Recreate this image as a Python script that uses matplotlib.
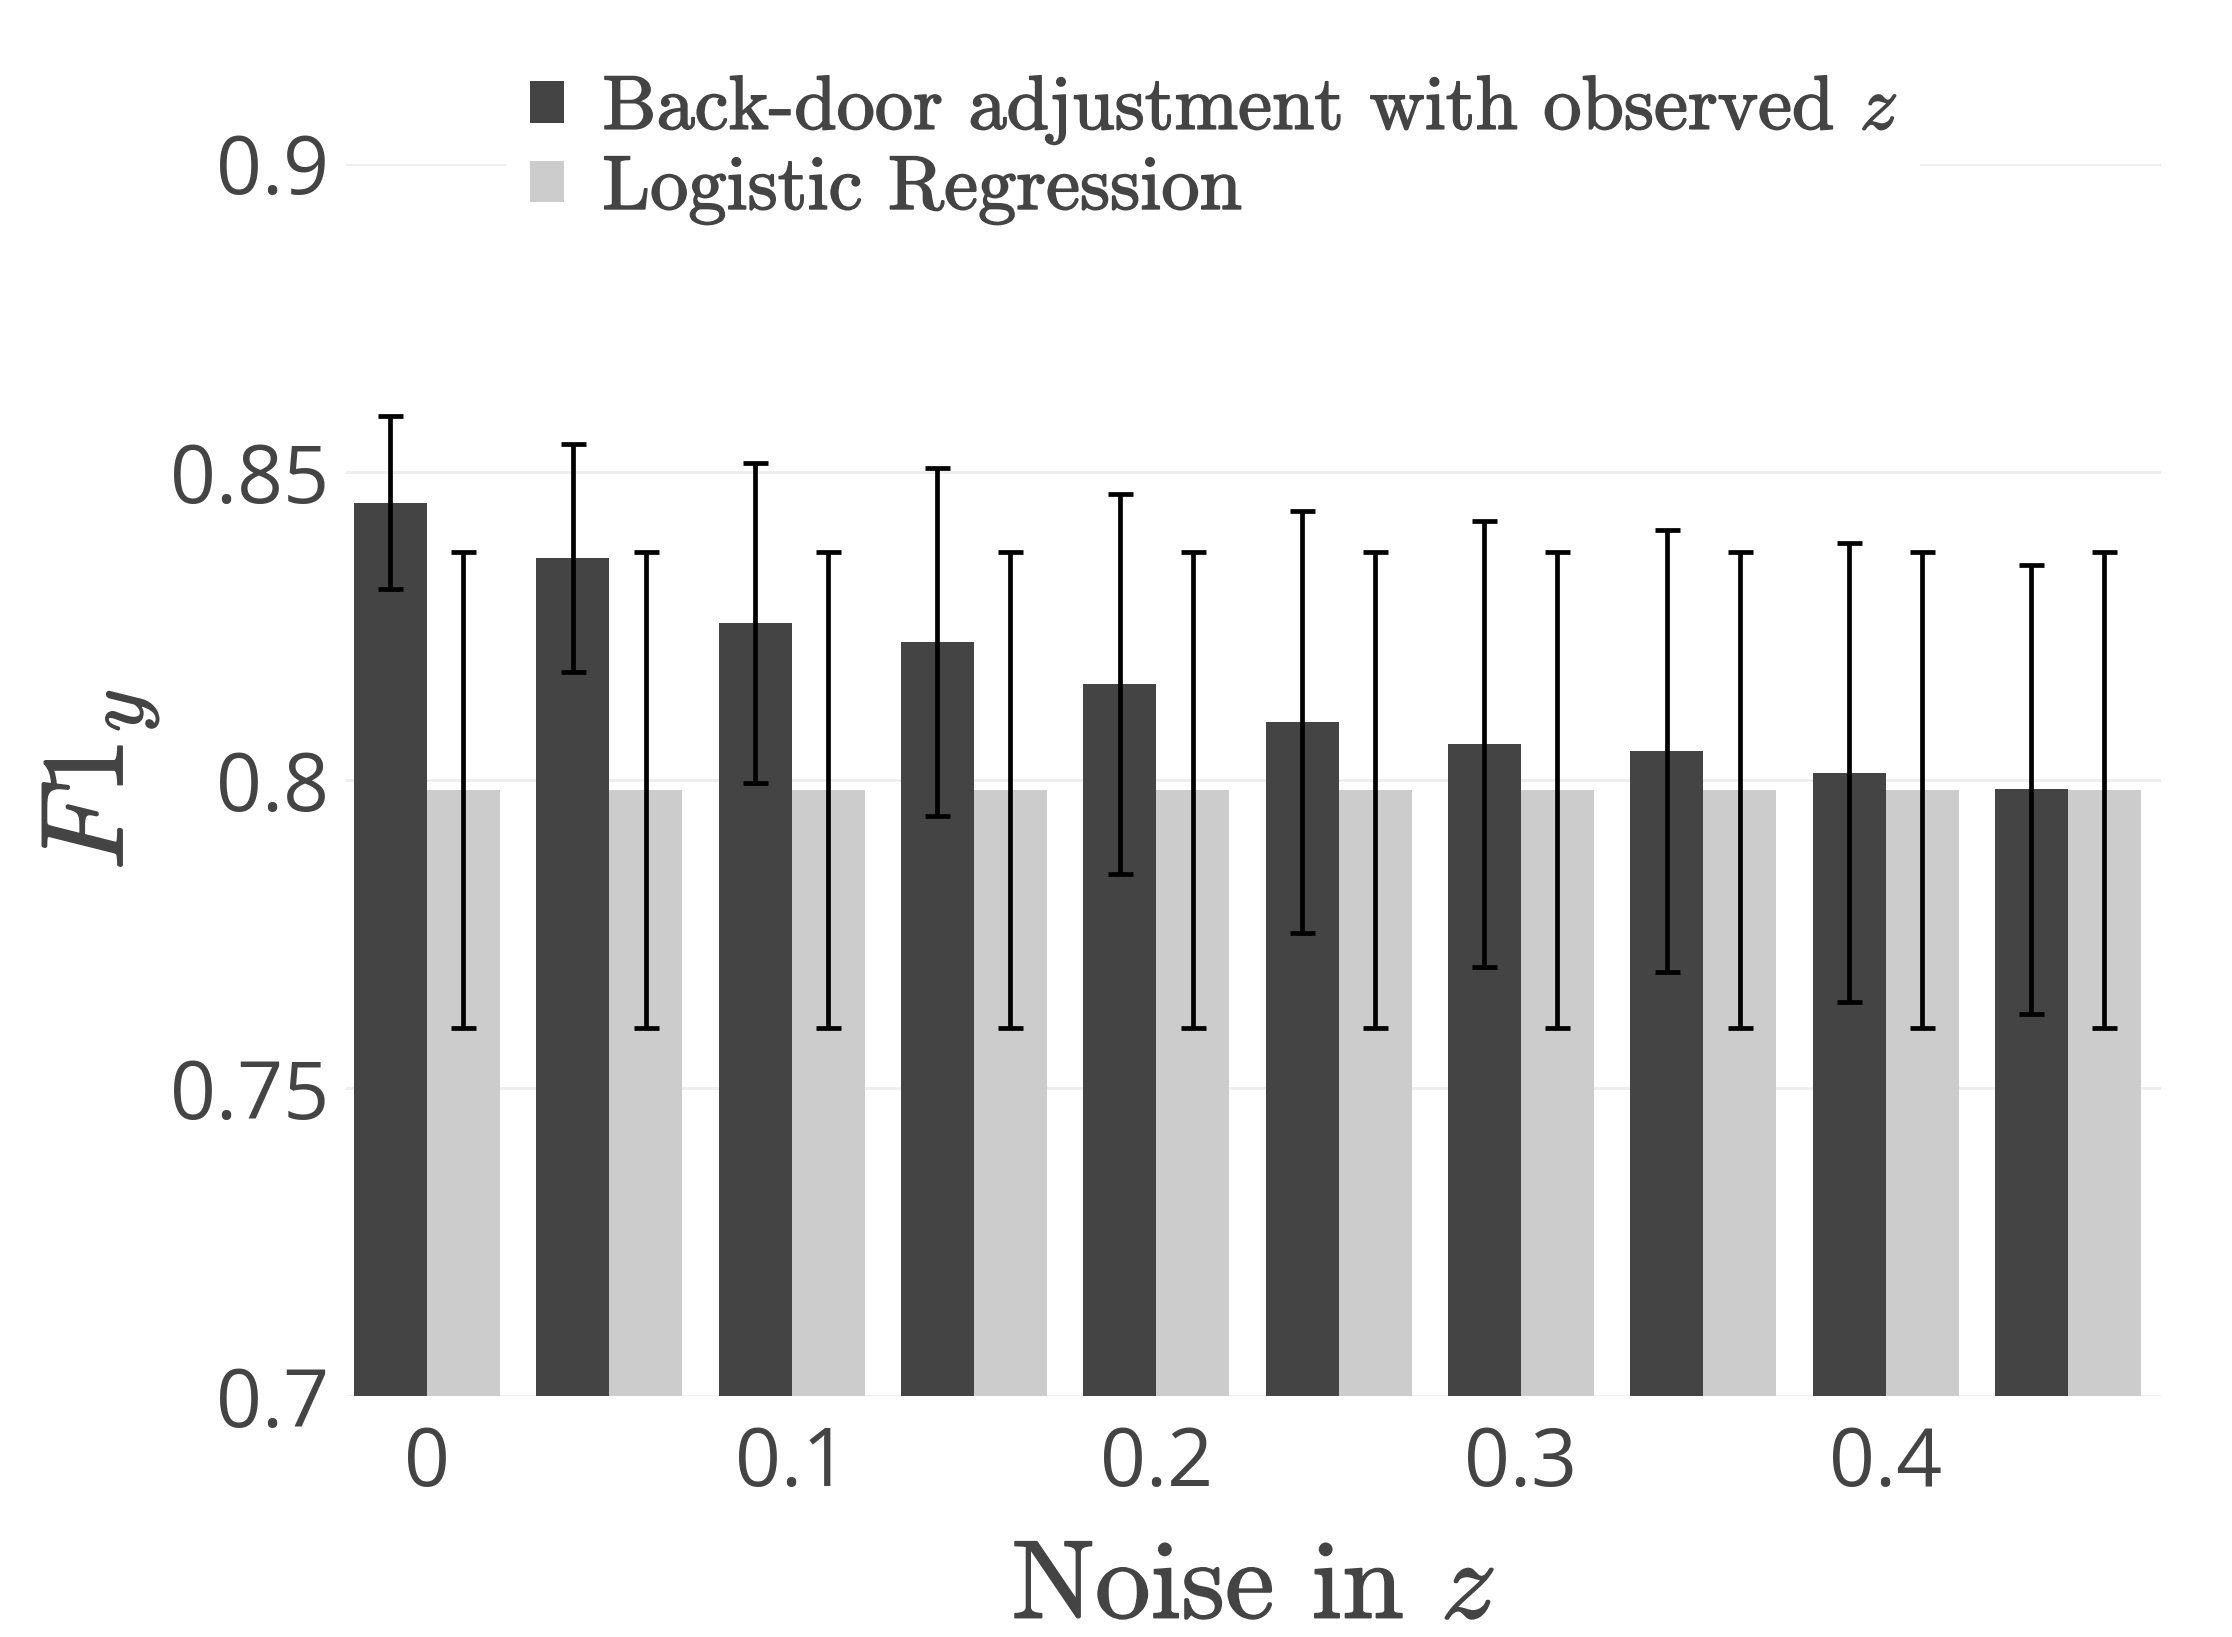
import numpy as np
import matplotlib
matplotlib.use("Agg")
import matplotlib.pyplot as plt
import matplotlib.patheffects as pe
from matplotlib.patches import Patch

# 데이터
noise = [0, 0.05, 0.1, 0.15, 0.2, 0.25, 0.3, 0.35, 0.4, 0.45]
backdoor = [0.845, 0.836, 0.8255, 0.8224, 0.8156, 0.8094, 0.8058, 0.8047, 0.8012, 0.7985]
backdoor_err = [0.014, 0.0185, 0.026, 0.0282, 0.0308, 0.0342, 0.0362, 0.0359, 0.0372, 0.0364]
logreg = [0.7984] * 10
logreg_err = [0.0386] * 10
xticks = [0, 0.1, 0.2, 0.3, 0.4]
yticks = [0.7, 0.75, 0.8, 0.85, 0.9]
labels = ["Back-door adjustment with observed $z$", "Logistic Regression"]

DARK = "#444444"
LIGHT = "#cccccc"
TXT = "#444444"

plt.rcParams["mathtext.fontset"] = "cm"
plt.rcParams["font.family"] = ["Open Sans", "DejaVu Sans"]

# 글자를 약간 굵게
bold = [pe.withStroke(linewidth=1.2, foreground=TXT)]

fig = plt.figure(figsize=(22.32, 16.37), dpi=100)
ax = fig.add_axes([0.155, 0.147, 0.813, 0.753])

x = np.array(noise)
w = 0.02
ax.bar(x - w / 2, backdoor, width=w, color=DARK, zorder=2)
ax.bar(x + w / 2, logreg, width=w, color=LIGHT, zorder=2)
ax.errorbar(x - w / 2, backdoor, yerr=backdoor_err, fmt="none", ecolor="black",
            elinewidth=3.4, capsize=9, capthick=3.4, zorder=3)
ax.errorbar(x + w / 2, logreg, yerr=logreg_err, fmt="none", ecolor="black",
            elinewidth=3.4, capsize=9, capthick=3.4, zorder=3)

ax.set_xlim(-0.0222, 0.4754)
ax.set_ylim(0.7, 0.9)
ax.set_xticks(xticks)
ax.set_xticklabels([f"{v:g}" for v in xticks])
ax.set_yticks(yticks)
ax.set_yticklabels([f"{v:g}" for v in yticks])
ax.tick_params(length=0, labelsize=58, colors=TXT)
ax.tick_params(axis="x", pad=20)
ax.tick_params(axis="y", pad=12)
for s in ax.spines.values():
    s.set_visible(False)
ax.yaxis.grid(True, color="#eeeeee", linewidth=2, zorder=0)
ax.set_axisbelow(True)

xl = ax.set_xlabel("Noise in $z$", fontsize=80, family="cmr10", color=TXT, labelpad=26)
xl.set_path_effects(bold)
yl = ax.set_ylabel("$F1_y$", fontsize=84, color=TXT, labelpad=6)
yl.set_path_effects(bold)

handles = [Patch(facecolor=DARK), Patch(facecolor=LIGHT)]
leg = fig.legend(handles, labels, loc="upper left", bbox_to_anchor=(0.21, 0.992),
                 prop={"family": "cmr10", "size": 55}, frameon=True,
                 handlelength=0.45, handleheight=0.45, handletextpad=0.5,
                 labelspacing=0.12, borderpad=0.3)
leg.get_frame().set_facecolor("white")
leg.get_frame().set_edgecolor("none")
leg.get_frame().set_alpha(1)
for t in leg.get_texts():
    t.set_color(TXT)
    t.set_path_effects(bold)

fig.savefig("out.png", dpi=100)
